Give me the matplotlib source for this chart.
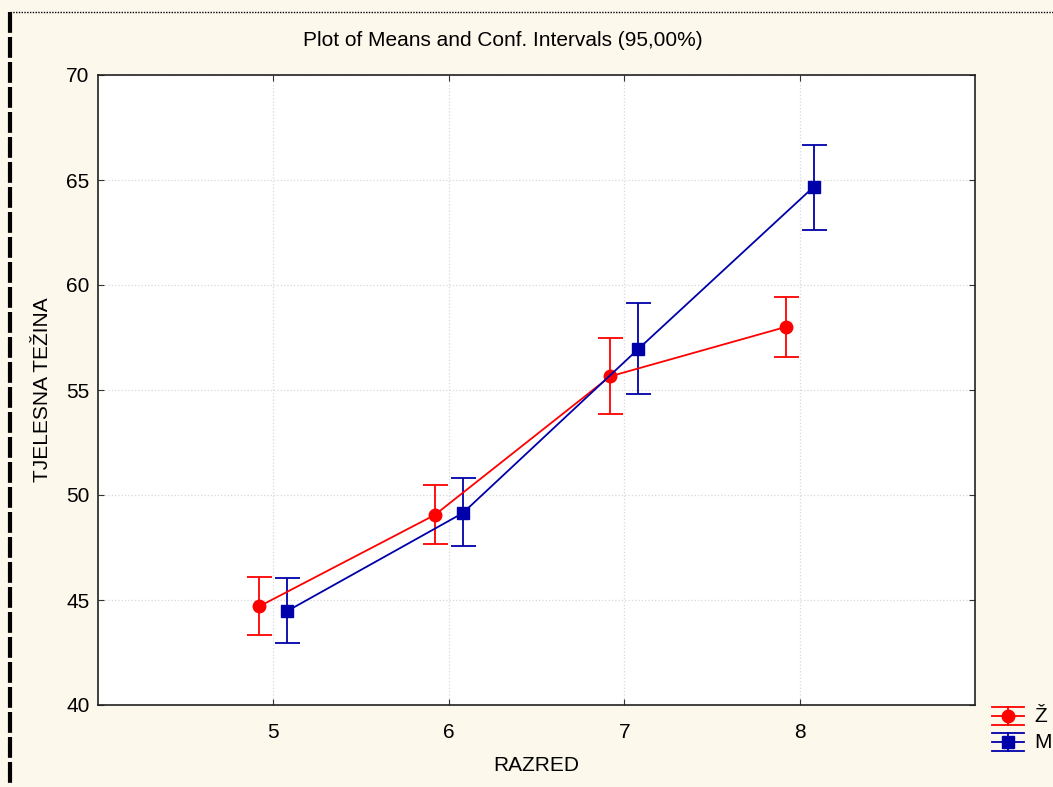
import matplotlib
matplotlib.use("Agg")
import matplotlib.pyplot as plt
from matplotlib.lines import Line2D

plt.rcParams['font.family'] = ['Liberation Sans', 'DejaVu Sans']

razred = [5, 6, 7, 8]
z_mean = [44.7, 49.05, 55.65, 58.0]
z_low = [43.33, 47.67, 53.86, 56.57]
z_high = [46.1, 50.48, 57.48, 59.43]
m_mean = [44.48, 49.14, 56.95, 64.67]
m_low = [42.95, 47.57, 54.81, 62.62]
m_high = [46.05, 50.81, 59.14, 66.67]
yticks = [40, 45, 50, 55, 60, 65, 70]
series_labels = ['Ž', 'M']

bg = '#FDF8EC'
W, H = 1053, 787
fig = plt.figure(figsize=(W / 100, H / 100), dpi=100, facecolor=bg)
ax = fig.add_axes([98 / W, 1 - 705 / H, 877 / W, 630 / H])
ax.set_facecolor('white')

off = 0.08
red = '#FF0000'
blue = '#0000AA'
zx = [x - off for x in razred]
mx = [x + off for x in razred]
ax.errorbar(zx, z_mean, yerr=[[m - l for m, l in zip(z_mean, z_low)], [h - m for m, h in zip(z_mean, z_high)]],
            color=red, marker='o', ms=9, lw=1.3, capsize=9, capthick=1.3, elinewidth=1.3, zorder=3)
ax.errorbar(mx, m_mean, yerr=[[m - l for m, l in zip(m_mean, m_low)], [h - m for m, h in zip(m_mean, m_high)]],
            color=blue, marker='s', ms=9, lw=1.3, capsize=9, capthick=1.3, elinewidth=1.3, zorder=3)

ax.set_xlim(4, 9)
ax.set_ylim(40, 70)
ax.set_xticks(razred)
ax.set_yticks(yticks)
ax.grid(True, color='#D8D8D8', linestyle=':', lw=0.9)
ax.tick_params(direction='in', length=4, labelsize=15, top=True, right=True, color='#333333')
ax.tick_params(axis='x', pad=13)
ax.tick_params(axis='y', pad=6)
for s in ax.spines.values():
    s.set_linewidth(1.2)
    s.set_color('#222222')

ax.set_xlabel('RAZRED', fontsize=15, labelpad=10)
ax.set_ylabel('TJELESNA TEŽINA', fontsize=15, labelpad=10)
fig.text(503 / W, 1 - 41 / H, 'Plot of Means and Conf. Intervals (95,00%)', ha='center', va='center', fontsize=15)

# legend drawn manually (errorbar-style handles)
def fx(px):
    return px / W

def fy(py):
    return 1 - py / H

for (yc, col, mk, lab) in [(716, red, 'o', series_labels[0]), (742, blue, 's', series_labels[1])]:
    for dy in (-9, 0, 9):
        fig.add_artist(Line2D([fx(992), fx(1024)], [fy(yc + dy), fy(yc + dy)], transform=fig.transFigure,
                              color=col, lw=1.3))
    fig.add_artist(Line2D([fx(1008), fx(1008)], [fy(yc - 9), fy(yc + 9)], transform=fig.transFigure,
                          color=col, lw=1.3))
    fig.add_artist(Line2D([fx(1008)], [fy(yc)], transform=fig.transFigure, color=col, marker=mk, ms=9, lw=0))
    fig.text(fx(1034), fy(yc), lab, ha='left', va='center', fontsize=15)

# page borders
fig.add_artist(Line2D([10 / W, 1], [1 - 12 / H, 1 - 12 / H], transform=fig.transFigure, color='black', lw=1,
                      linestyle=(0, (1, 1))))
fig.add_artist(Line2D([10 / W, 10 / W], [1 - 12 / H, 0], transform=fig.transFigure, color='black', lw=3,
                      linestyle=(0, (5, 1))))

fig.savefig('out.png', dpi=100, facecolor=bg)
